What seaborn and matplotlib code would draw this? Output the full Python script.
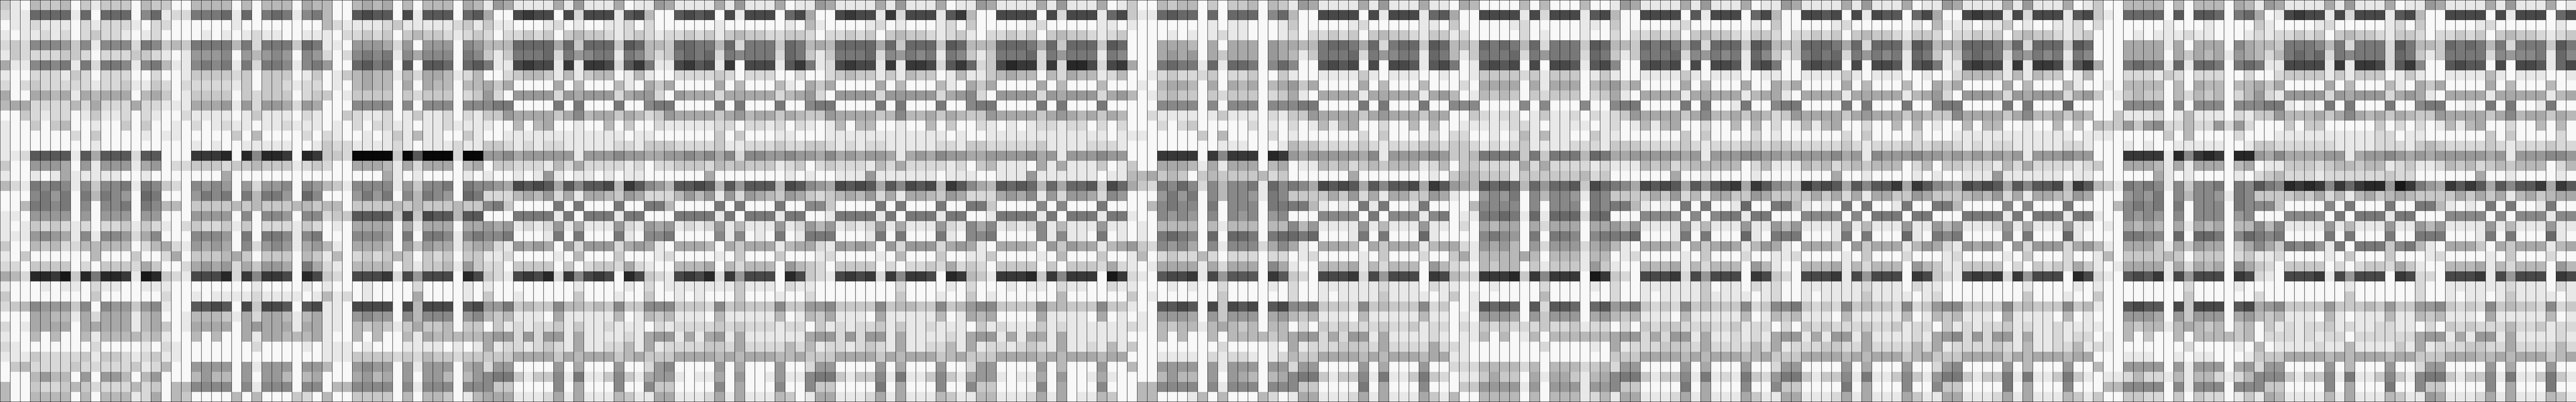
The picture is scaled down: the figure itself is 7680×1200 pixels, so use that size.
import numpy as np
import seaborn as sns
import matplotlib
matplotlib.use('Agg')
import matplotlib.pyplot as plt

# gray level of every cell (hex digit, 0 = black, f = white)
# one list per stretch of columns, one string per row
cols_000_020 = [
    "cefbccbfcecccfbccffbb", "dee6666e6f666f86edd77", "feedeeefdedddefddffff", "efeededfdcddefedffffe",
    "dcd8889c8e888d78cbc77", "ecddddccdfdddccdefe99", "aee8787e7d778e87bee87", "effdddecdfdddffdffecc",
    "dfdcdddddeddceecdfddd", "affaabaeabaaafbacfecc", "baaddddbdadddaddeeeaa", "ffcdeddfeceedfdeffdee",
    "effcfcbffeffcfcffefdf", "effffffdfcffffefeefff", "effffffffefffffffffef", "eed5555e5a555d55fff33",
    "cff999af9e999ea9fddcc", "effefeaeeeeeffeffffff", "bde7878e8c887e78cdf89", "fff8797f7b789f67fff97",
    "ffb7787f8f887f78bbfcc", "eef9999f9f999f99fff99", "efecdcdedfddcecdefdcd", "eee989ae8e889da8fff88",
    "cffbcbddbbbbbfdbade9a", "efcffffffbfffcffdafcc", "ddfccccfdfcccdacffda9", "abd2231c27223e12cde44",
    "efffefeefdeeffeeeffff", "cffffffffcffffffdffef", "dcb8999c8f899c98eff55", "fffaabbeadaaaebaffebb",
    "dfeaaaafaaaaaebacfeaa", "effbfbffbebbbbcbeffbf", "defffffffdffffefdefff", "eeecddddceccdedceefff",
    "fcbddddcdddddcedbff99", "fffb9bbf9f99bfb9fffb9", "bffcddcbcddddbdcfbb88", "bffbbbbfbfbbbedafbcff",
]
cols_021_050 = [
    "bbfbfbbbfabbffbabafbfbbbfabe9a", "76e6f767e87bff5455f4e555f65aff", "ffeffffffffbdeeeedceeeeedcecee",
    "fefedeeffeeefddcdcfcbccdedcdfd", "77b7d777c67eef999ad9f999f89bbb", "98f9b989f89dfd8787e8a888f78cec",
    "87e7d778e879ff6576f5f556f657ee", "ccdcfcccfecfecbabbebdaabedbffd", "ddecfccdeddfefbabbfafabbfbbaca",
    "ccfcdcccfdccfeccccfcdcccfdc9df", "a9e9d99ad9afff8888f8f888f88877", "eefeceeefdeffcdeedfeceedfdecc9",
    "edeefeedeeefefdfddeefeedeeeeff", "ffcfbffffdfdeffefecebeeffceffe", "effeeeeeffecddeeeedefeeedeeccd",
    "32f28223f23ccd0000c05000d00998", "cdccbcccedcdffaaabeadaaafbafcc", "fafffffffffffffffaefeffffefeff",
    "89f9d998f89bce8888e9c887f7889a", "87f7b779f68fff9797f8b789f67ddd", "ccbcbcccbbcbbfccccbcbcccbcc87c",
    "99f8f889f88dcc5555c4c455b55fff", "dcecfdddecdfefaaaafaeaaafaa9a9", "89f7f778e87fff8889f7f778e87887",
    "9af8d989ea9befaaabf9c9aaebaade", "cbacfcccfbcebfdcdcbcfcdcfcceed", "a9dac99af7adefbbbbfceccbe9cddf",
    "42d38334f24cdf4443d49444f24cde", "ffffeffffefefffeffffdffffefeff", "eeeedeeeefebedfeffffaffffefcff",
    "45f4c445f54eef4444f4b444f54997", "bceadaabebaeef9899f8b888f98bcb", "aafa9aaaeaaeefbcbcecaccbfccfce",
    "bffaeaabbbaeffbfbffbeabbbbba99", "ffffdffffefeeefefffeeeefefeaed", "fffffffffffeeeccccdcdbccdccccc",
    "99f9e999f99bff9899f9e999fa9d99", "bbf9f99bfbafffa9baf9f99bfb9877", "88f8e888f88fbb8888f8e888f888cc",
    "ffbfbfffcdfbffccccfbfbbcfebaaa",
]
cols_051_080 = [
    "eeeeae9eeeafee9aeeeeae9eeeafee", "4344f4d444e54bff5454f4e444f64a", "fffedfeffeedfdffffffeffffffefb",
    "dcdcfcbccdedcdeddcdcecbccddccd", "6666a6c666c56bbc6677b6d777c67b", "7776d79877e78bdc7676d78777d67c",
    "4344e3e334d537ee4354e3f444e537", "cbbcebecbbfebeffddddcdfdddffdf", "ffffafbfffbefacaffffafbfffbefa",
    "9999d9a999da99df9aaadaaaaadba9", "ffff7f7fff7ff877ffff7f7fff7ff8", "aaaaca8baacabdc9aaaaca9baacabc",
    "bfbaffeffbfcffdeeeeeddfddedfde", "eeeeeeeeeeefeeffffffcfcfffeeff", "ededdeeeeeddecccddddceedddcddc",
    "a99999e999899aa99898a8d8899899", "dddebdaddddedfddcccdbcbcccedcf", "efe9efeefefeeffffffafffffffefe",
    "4545a58554b3589b5545b59555b458", "bab9daeaabc9adddb9b9e9d9abc9ac", "ffff7f7fff7ff77bffff7f7fff7ff8",
    "7777e7f777e77fff7777e7f777e77f", "eded9eaeee9de9a9eded9ebeee9ed9", "fffe7f7fff7ef887ffff8e8fef7fe7",
    "9a9af9d999da9aefaaabfacaaaebaa", "ffffefbfffcfffedffffefcfffcfff", "ccccfcfdccdadeffbbbafbdbbbf9bc",
    "4342d38434f24cde4342d39444f24c", "ffffffeffffefdfeeeeeeeceeefdee", "efffffcfffeffcffefefffcfffeffd",
    "cbcc8bbcbc8cc888cccd8cbccc8cc9", "eeefaeeeeebfebcbeeefbeeeeebfeb", "deddceceedeeefdeddddcdcdddeddf",
    "d9d99eaeeeedea99eaea9eaeeeeeea", "dedcdeaeeddbeaeddddccdaddddbdb", "aaaacabaaacbacccaaaababaaabbac",
    "ffff9fafff9ffd98ffff9fafff9ffd", "cecc8e7eec8cea99efeeaf9ffe9ee8", "ffff8fafff8ff8ccffff8fafff8ff8",
    "eeedaeaeeebceeaaeeedaeaeeebcfe",
]
cols_081_110 = [
    "9aeeeeae9eeeafee9aeeeeae9eeeaf", "ff4344e3d444e53bff4444f4d444e6", "effffedfefffedfcfffffedfffffee",
    "fddcdcfcbccdedcefddcdcfcbccded", "ab6666a6c666c56bbb6667a6c666c5", "ec7776d89787e78cec7776d79777e7",
    "ed4344e3e334d536dc4233d3d224d4", "fdcbccecebccfebeecbabbfbdabbed", "caffffafbfffbefacaffffafbfffbf",
    "df9999d99999da98df9999d9a999da", "77ffff7f7fff7ff877ffff7f7fff7f", "c9aaaacb8bbacabcc9aaaaca9abaca",
    "febfbbffeffbfcffdefefeddeddfdf", "feeeeeeeeeeeefeffeeeeeeeeeeeef", "cdededdeeeeeddeccdddddceeeeddd",
    "a8a9a99aea9a899aa99998a9e99989", "dcdddebdaddddedfcbeeefaeaeeecf", "ffeee9eeeeeefeeeffeee9eeeeeefe",
    "9a4545a58454b358ab5656b6a665c4", "dcbab9daeaabc9addda9a8e9d99ad8", "8cffff7f7fff7ff77cffff8f8fff7f",
    "fe7777e7f777e77ffe7777e7f777e7", "b9eded9eaeee9de8a8eded8ebeee9e", "77fffe7f7fff7ef887ffff8e8eef7f",
    "de9a9af9d999da9aefaaabf9c9aaeb", "edffffefbfffcffeecffffefbfffcf", "dfccccfdfddcdadcdfccccfcfcccda",
    "de4343d38334f23bce3332c38333f1", "ffffffffdffffefdfffefeefdeeffd", "ffffffffcfffeffcfeffffffbfffff",
    "98cccc8cbbcc8cb988cccc8bbccc8c", "caeeefaeeeeebfeabaffffaeeeefaf", "cededdceceedeeefcedeeecedeeeee",
    "99d9d99eaeeeedea99eaeaaeaeeeee", "eddedcdeaeeddbeaeddedcdeaeedeb", "ccaaaacabaaacbacccaaaababaaaba",
    "99ffff9fafff9ffd99ffff9fbfff9f", "77cecc8e7eec8cea99efeeaf9ffeae", "ccffff7fafff8ff8ccffff8fafff8f",
    "aaeeedaeaeeebceebbeeedaeafeebc",
]
cols_111_140 = [
    "ecffbcbbfcfccbfbce9aeeeeae9eee", "4cee6566f6f666f86bff4444f4e444", "fefffffffefeefffecfffffedfffff",
    "cffffefefedeefffedfddcdcfcbccd", "6fffaaabfafaaaf9aabb7667a6d766", "8fffa9a9facaaaf9abec7776d79877",
    "3aff7677e6e667f868ff5454f4f445", "bffedcdddcfddcffceffeeeecefeee", "ffefbaabfafabafba9caffffafbfff",
    "9bfecbccfcdcccfdcaefaaaaeaaaaa", "ffff8888f8f888f88877ffff7f7fff", "bffdeeeefeceeefdecc9aaaaca9aaa",
    "dfffdfdcfffffdfefdfebebaffdffb", "eeefffffcfbffffdfeffffffdfcfff", "efffffffffeeefffebccddddcdeddd",
    "9fff3333f38333f239a99999a8e999", "ecffaaabeaeaaafbafeebcbdcbcbbb", "ebbacbcfcbccccbdcffffffaffffff",
    "6acd7868d8b887e6878a4545a58554", "9fff9797f8b889e78ccccac9daeaac", "fffb8788f7f888f7777befef7e7ffe",
    "7eff8989f8f898f98fff8888f7f888", "efefbbbbfbebbbfbb8b9eeee9ebeee", "efef7678f6f667f76676fffe7f7fff",
    "a9cd898af8e888da8aefaaabfacaaa", "febfdcddbdfdddfddfedffffefcfff", "defeaaaaeadaaaf8aeffbbbaebdbbb",
    "3def5443e49555f35cdf4443d49444", "eefffefeffdffffefdffeeeeeedeee", "fcfeffffffcffffffdffefeeeeceee",
    "ceff5545f4c454f54887cccd8cbccc", "efef999af9c999fa9bcbeeefbeeeee", "edefbcbbebabcbfbbfdfcdcdddcddc",
    "efffbfbffbfbbbbcba99dad99eaeee", "ecffffffffdffffefaedddcccdaddd", "afffeeeefdeddefedbccaaaababaaa",
    "fbff9999f9e999f99d99ffff9fafff", "ffffb9bbf9f9abfba877cecc8e7eec", "ffbb8888f8e888f888ccffff7fafff",
    "ffbbfffebfbfffbdfeaaeeedaeaeee",
]
cols_141_170 = [
    "aeefabffffbfbfffbffe9aeeeeae9e", "e65aff4444e4d444e54bff4444f5e4", "eefcfffffedfffffeefcfffffedfff",
    "eccedfffffdfefffeffdfddcdcfcbc", "c56bbc6767b6d777c56bbc6767a6d6", "e67bec7776d79777d67cec7776d897",
    "e547fe5454f4f445e548ff5454f4f4", "ffeffeccccdcecccfeceffeeeecefe", "bfffdfaaaafaeaaafba9caffffafbf",
    "ea9bfebcbcfcdcccfdcaefaaaaeaaa", "7ff888ffff8f8fff8ff877ffff7f7f", "caaffcdeddfeceedfdedc9aaaaca8b",
    "fbffeeeeeddefeeeefedfebebaffdf", "fdfddffefebebeeffceeffffffcfcf", "ccdccdededceeeedddecccddddcded",
    "989ccb7777c7c777b67aa99999a9e9", "edbfccdddeadaddddedeeebcbdcbbb", "fefcbbccceccccccbdcffffffaffef",
    "a359ab5656b69665c4678a4545a585", "c9aeff9897f8b889e78ccccac9dbea", "7ffffb8888f8f888f7877befef7f7f",
    "e87fee7767e6e666d66fff8888f8f8", "9eefdfabaafadaaafaa9b9eeee9ebe", "6effff8789f7f778f87776fffe7f7f",
    "ebaade9a9bf9d999da9befaaabfaca", "dffcaebbbbabfbbbebbfedffffefcf", "f9bdefbcbbfceccce9ceffbbbaebdb",
    "f34bcd3332c38333f13cdf4443d494", "fdeefffeffffdffffefdffeeeeeecf", "efecfeffffffbffffffdffefeeeece",
    "8dcffe5656f5d556f65987cdcd8cbc", "beefef999af9c999fa9bcbeeefbeee", "eddfdecdcdddcddceddfdfcdccddcd",
    "edefeebfbfebfbbbbbba99dad99eae", "daddefffffffdffffefaedddcccdad", "baaeeffffffffffffffcccaaaababa",
    "9ffdddbbbbdbfbbbdcbd99ffff9faf", "7cdfeecaccfaeaaceba877cecc8e7e", "8fffcc9999e9f999e998ccffff7faf",
    "acebffbbbbfbfbbbedbeaaeeedaeae",
]
cols_171_200 = [
    "eeafee9aeeeeae9eeeafee9aeeeeae", "44f64bff4454f4e455f64aff4344e4", "fffefcfffffedffffffefbeeefeecf",
    "cdeccdfddcdcfcbccdeccdfddcdcfc", "66c56bbc6667a6d666c56bab6667a6", "87e68cec7676d79787e67cec7677d8",
    "45e547ff5455f4f445e547ee4344e3", "eeffeeffeeeecefeeeffeffdbbbceb", "ffaffacaffffafbfffbffacaffffaf",
    "aaebaaefaaaaeaaaaaeba9df999ad9", "fe7ff877ffff7f7fff7ff877ffff7f", "bacabdc9aaaaca9aaacabcc8aaaaca",
    "fbfbfdfebebaffdffbfbfeffbfbbff", "fffdfeffffffdfcffffdfffeeeeeee", "ddccdccdddddcdedddcddccdededde",
    "998899a99998a9e8999899a9a9a9a9", "bbfdbeeebcbdcbcbbbfdbfccdddebd", "fffefffffffaffeffffefeffeee9ee",
    "43a3589a3545a58553a3589a4545a5", "acc9accccacadaeaacc9acccbab9da", "fe6ff77befef7f7ffe7ff77bffff8f",
    "77e77fff8888f8f777f77fff7777e7", "ee9ee9b9eeee9ebeee9ee9b9eeed9e", "ff6ef777fffe7f7fff6ef787ffff8f",
    "9aeb9aefaaabf9caaaeb9ade9a9af9", "ffdffeedffffefcfffdfffedffffef", "bbf9beffbbbaebdbbbf9bceeccccfd",
    "44f34cdf4443e49444f34cde4343d3", "eefdedffeeeeeedeeefdeeffffffff", "eeefedffefeeeeceeeefedffffffff",
    "cc8dc887cdcd8cbccd8dc988cccc8c", "eebfebcbeeefbeeeeebfebcbeeefae", "dceddfdfcdcdddcddceddfcededdce",
    "ededea99eae99eaeeeedea98d9d99e", "dddbdaedddccddaddddbdaeddddcde", "aabbacccaaaababaaacbacccaaaaca",
    "ff9ffd99ffff9fafff9ffd98ffff9f", "de7cd977cecc8e7eec8ce977cecc7e", "ff8ff8ccffff7fafff8ff8ccffff7f",
    "eeaceeaaeeedaeaeeeaceeaaeeedae",
]
cols_201_230 = [
    "9eeeafecffbbbbfbfbbbfabe9aeeee", "d444e54cef6666f5f556f76afe4344", "effeedfdffffffefffeffffceffffe",
    "bccdedcffffefeeedeefffededdcdc", "d666c56fffaaaaeafaaaf8abbc7778", "9787e78fffaaaafacabae9abdb7676",
    "e334d53aff7677e6e667f767ee4444", "ebccfebfffdddecdfdddffdffdcccc", "bfffbeffefbbbbfbfabbfbbacaffff",
    "a999da9cfecbccfbdbcbfdb9de9999", "7fff6fffff8888f8f888f88877efef", "8bbacabffceeedfebeeefdecc9bbba",
    "effbfcfbcc9c98ddbdd9d9dfffcfcc", "eeeeefeeefffffcfbffffdfffeeeee", "eeeeddefffefeffeeeeeffeccddddd",
    "e999899fff3333e28323f229a8aaaa", "addddedcffaaabeaeaaafbafeecccd", "eeeefeeffffffaefeffffefdcbddde",
    "8554b35bce7878e8c887f785782323", "eaabc9afff9897f8b889e78ccccbca", "8fff7ffffb8787f7f888f7888cffff",
    "f777e77eff8989f8f888f98fff8888", "aeee9eefefababfaeabafbb8b8eeee", "7fff6effff7788f6f667f86787ffff",
    "d999da9befaaaceac9aafca8ac7879", "cfffdffebfccccbcfcccfdceedffff", "fcdcdacefeaaaaeadabaf8acdfcccc",
    "9444f24def5453e49444f34def4443", "effffefeffffffffdffffeffffffff", "cfffeffcffffffffcffffffdffffff",
    "bccc8cbeff5455f4c444f54a98cccc", "eeefbfefff999af9c999fa9bcbeeef", "deedeeeeffbcbbebabcbfcbfcededd",
    "aeededdfefbfcffbfbbbbcbfdddede", "beeddbedefffffffdffffefbfeeeed", "baaabaafffeeeffefeefffecccaaaa",
    "bfff9ffbff9999f9e999fa9d99ffff", "7eec7cefeedbddebebbdedb888cecc", "afff8fffbb8888f8e888f888ccffff",
    "aeeebcecffccddfcfcddfeceabeeee",
]
cols_231_255 = [
    "ae9eeeafee9aeeeeae9eeeafe", "e4d444e54bff4444f4e444f64", "dfffffedfcfffffedffffffef", "fcbccdeccdfddcdcfcbccdedc",
    "b7d777d57bbc6767b7d777c57", "d78777d67cec7777d89887e68", "e3e334d538ff5455f4f445e64", "ececccfeceffeeeebefeeeffe",
    "afbfffbefacaffffafbfffbff", "d9a999da9aefaaaaeaaaaaeba", "7f7fff7ff877ffef7f7ffe7ff", "ca8abacabcc9aaaaca8baacab",
    "fffffcfdfdfebebaffdffbfbf", "eeeeeddfeeffffffcfcffffdf", "deeeedddecbcddddcdedddcdd", "99ea9989a9a99999a9e999889",
    "cbbcbbedceedbcbdcbcbbbfdb", "ddddddcddffffffaffeffffef", "83632291379a3535a58553a35", "dbebacbabccccacacaebacbaa",
    "8f7fff7ff77befef7f7ffe7ff", "f7f777e77fff8888f8f888e88", "9ebeee9ee9b9eeee9ebeee9ee", "7f7fff7ff777fffe7f7fff6ef",
    "e7f777c87befaaacfacaaaeba", "efcfffcfffedffffefcfffdff", "fdfdccdaceffbbbaebdbbbf9b", "e49444f34ddf4443e49444f34",
    "ffeffffffdffeeeeeedeeefde", "ffcffffffdffefeefeceeeefe", "9cccbc9cc998cdcd8cbccd8dc", "befeeebeebcbeeefaeeeeebfe",
    "cedeeddeefdfcdcdddbddcedd", "ddfdddddda99eae99eaeeeede", "eebeeeeceaedddccddaddddbd", "babaaabaacccaaabbabaaacba",
    "9fbfff9ffd99ffff9fafff9ff", "8e7eec8ce877cecc8e7eec7ce", "8fafff7ff8ccffff8fafff7ff", "beaeeebcee9aeeedaeaeeebce",
]


def levels(rows, width, name):
    for i, row in enumerate(rows):
        if len(row) != width:
            raise ValueError(f'{name} row {i}: {len(row)} instead of {width}')
    return np.array([[int(c, 16) for c in row] for row in rows])


grid = np.hstack([
    levels(cols_000_020, 21, 'cols_000_020'),
    levels(cols_021_050, 30, 'cols_021_050'),
    levels(cols_051_080, 30, 'cols_051_080'),
    levels(cols_081_110, 30, 'cols_081_110'),
    levels(cols_111_140, 30, 'cols_111_140'),
    levels(cols_141_170, 30, 'cols_141_170'),
    levels(cols_171_200, 30, 'cols_171_200'),
    levels(cols_201_230, 30, 'cols_201_230'),
    levels(cols_231_255, 25, 'cols_231_255'),
])

fig = plt.figure(figsize=(76.8, 12), dpi=100)
ax = fig.add_axes([0, 0, 1, 1])
sns.heatmap(grid, ax=ax, cmap='gray', vmin=-0.5, vmax=15.5, cbar=False,
            xticklabels=False, yticklabels=False)

# black rules between the columns only, none between the rows
ax.set_xticks(np.arange(grid.shape[1] + 1), minor=True)
ax.tick_params(which='both', length=0)
ax.grid(which='minor', axis='x', color='black', linewidth=0.72)
ax.set_axisbelow(False)
for side in ['top', 'bottom']:
    ax.spines[side].set_visible(True)
    ax.spines[side].set_color('black')
    ax.spines[side].set_linewidth(1.44)

fig.savefig('out.png', dpi=100)
